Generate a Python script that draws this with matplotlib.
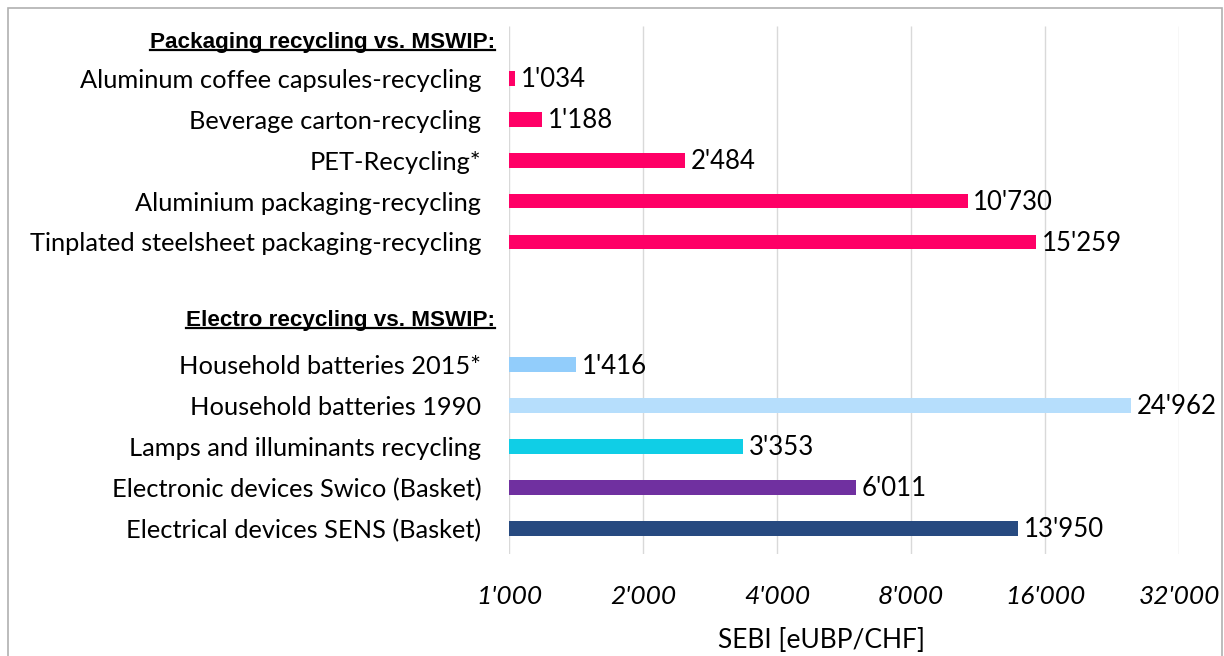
import matplotlib
matplotlib.use("Agg")
import matplotlib.pyplot as plt
from matplotlib import font_manager
from matplotlib.lines import Line2D
from matplotlib.patches import Rectangle
from matplotlib.transforms import blended_transform_factory, offset_copy

# rows from top to bottom; headings and the gap have no bar
labels = [
    "Packaging recycling vs. MSWIP:",
    "Aluminum coffee capsules-recycling",
    "Beverage carton-recycling",
    "PET-Recycling*",
    "Aluminium packaging-recycling",
    "Tinplated steelsheet packaging-recycling",
    "",
    "Electro recycling vs. MSWIP:",
    "Household batteries 2015*",
    "Household batteries 1990",
    "Lamps and illuminants recycling",
    "Electronic devices Swico (Basket)",
    "Electrical devices SENS (Basket)",
]
values = [None, 1034, 1188, 2484, 10730, 15259, None, None, 1416, 24962, 3353, 6011, 13950]
bar_colors = [None, "#FF0066", "#FF0066", "#FF0066", "#FF0066", "#FF0066", None, None,
              "#92CDFB", "#B6DEFC", "#10CEE6", "#7030A0", "#274A80"]
headings = [0, 7]
x_ticks = [1000, 2000, 4000, 8000, 16000, 32000]

available = {f.name for f in font_manager.fontManager.ttflist}
body_font = "Liberation Sans Narrow" if "Liberation Sans Narrow" in available else "Lato"
head_font = "Liberation Sans"


def fmt(v):
    return f"{int(v):,}".replace(",", "'")


W, H = 1224, 656
fig = plt.figure(figsize=(W / 100, H / 100), dpi=100)
# plot area in pixels: x 509..1179, y 17..554
ax = fig.add_axes([509 / W, 1 - 554 / H, (1179 - 509) / W, (554 - 17) / H])

# thin grey frame around the chart
fig.patches.append(Rectangle((8 / W, -0.05), 1214 / W, 1 - 8 / H + 0.05,
                             transform=fig.transFigure, fill=False,
                             edgecolor="#B0B0B0", linewidth=1.2))

ax.set_xscale("log", base=2)
ax.set_xlim(1000, 32000)
ax.set_ylim(12.63, -0.5)

for i, (v, c) in enumerate(zip(values, bar_colors)):
    if v is None:
        continue
    ax.barh(i, v - 1000, left=1000, height=0.36, color=c, zorder=3)
    ax.annotate(fmt(v), (v, i), xytext=(4, -1), textcoords="offset points",
                va="center", ha="left", fontsize=18.5, family=body_font, color="black")

# gridlines do not reach the top of the plot area
ax.vlines(x_ticks, -0.27, 12.63, color="#D9D9D9", linewidth=1.0, zorder=0)

ax.set_xticks(x_ticks)
ax.set_xticklabels([fmt(t) for t in x_ticks], fontsize=19, style="italic", family=body_font)
ax.xaxis.set_minor_locator(plt.NullLocator())
ax.tick_params(axis="x", length=0, pad=22)
fig.text(822 / W, 1 - 641 / H, "SEBI [eUBP/CHF]", ha="center", va="center",
         fontsize=19, family=body_font)

ax.set_yticks(range(len(labels)))
ax.set_yticklabels([("" if i in headings else l) for i, l in enumerate(labels)],
                   fontsize=18.3, family=body_font)
ax.tick_params(axis="y", length=0, pad=20)
for s in ax.spines.values():
    s.set_visible(False)

# bold underlined group headings
trans = offset_copy(blended_transform_factory(ax.transAxes, ax.transData),
                    fig=fig, x=-14, y=0, units="dots")
head_shift = [0.12, -0.07]
head_texts = []
for i, dy in zip(headings, head_shift):
    t = ax.text(0, i + dy, labels[i], transform=trans, ha="right", va="center",
                fontsize=16.2, fontweight="bold", family=head_font)
    head_texts.append(t)

fig.canvas.draw()
renderer = fig.canvas.get_renderer()
inv = fig.transFigure.inverted()
for t in head_texts:
    bb = t.get_window_extent(renderer)
    x0, y0 = inv.transform((bb.x0, bb.y0 + 3))
    x1, _ = inv.transform((bb.x1, bb.y0 + 3))
    fig.add_artist(Line2D([x0, x1], [y0, y0], transform=fig.transFigure,
                          color="black", linewidth=1.6))

fig.savefig("out.png", dpi=100)
